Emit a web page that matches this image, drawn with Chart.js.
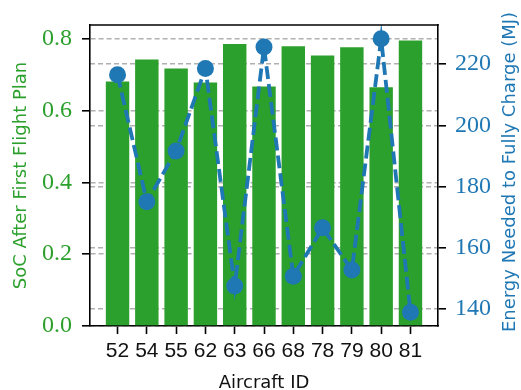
<!DOCTYPE html>
<html>
<head>
<meta charset="utf-8">
<script src="https://cdn.jsdelivr.net/npm/chart.js@4.4.1/dist/chart.umd.min.js"></script>
<style>
  body { margin:0; background:#fff; }
  #wrap { width:521px; height:390px; }
</style>
</head>
<body>
<div id="wrap"><canvas id="chart" width="521" height="390"></canvas></div>
<script>
// --- donnees ---
const aircraftIds = ['52','54','55','62','63','66','68','78','79','80','81'];
const socValues = [0.681, 0.742, 0.717, 0.678, 0.785, 0.667, 0.779, 0.753, 0.776, 0.665, 0.795];
const energyValues = [216.5, 175.0, 191.6, 218.6, 147.5, 225.6, 150.7, 166.5, 152.7, 228.3, 138.9];
const socTicks = [0, 0.2, 0.4, 0.6, 0.8];
const energyTicks = [140, 160, 180, 200, 220];

const green = '#2ca02c', blue = '#1f77b4';
const gridGray = '#b0b0b0';

// cadre du haut + titre de droite (lu de bas en haut)
const framePlugin = {
  id:'frame',
  afterDraw(chart) {
    const {ctx, chartArea:a} = chart;
    ctx.save();
    ctx.strokeStyle = '#000'; ctx.lineWidth = 1.6;
    ctx.beginPath(); ctx.moveTo(a.left-0.8, a.top); ctx.lineTo(a.right+0.8, a.top); ctx.stroke();
    ctx.translate(510, 172);
    ctx.rotate(-Math.PI/2);
    ctx.font = '18px "DejaVu Sans"';
    ctx.fillStyle = blue; ctx.textAlign = 'center'; ctx.textBaseline = 'middle';
    ctx.fillText('Energy Needed to Fully Charge (MJ)', 0, 0);
    ctx.restore();
  }
};

const tickStyle = { tickColor:'#000', tickWidth:1.6, tickLength:8, tickBorderDash:[] };

new Chart(document.getElementById('chart'), {
  data:{
    datasets:[
      { type:'line', label:'Energy', yAxisID:'y2', order:0,
        data:energyValues.map((v,i)=>({x:i, y:v})),
        borderColor:blue, backgroundColor:blue, borderWidth:3.8, borderDash:[13,5],
        pointRadius:8.5, pointHoverRadius:8.5, pointBorderWidth:0, pointBackgroundColor:blue, tension:0 },
      { type:'bar', label:'SoC', yAxisID:'y', order:1,
        data:socValues.map((v,i)=>({x:i, y:v})),
        backgroundColor:green, borderWidth:0, categoryPercentage:1, barPercentage:0.8 }
    ]
  },
  options:{
    responsive:false, animation:false,
    layout:{ padding:{ top:25, left:0, right:0, bottom:0 } },
    plugins:{ legend:{ display:false }, tooltip:{ enabled:false } },
    scales:{
      x:{
        type:'linear', position:'bottom', min:-0.94, max:10.94, offset:false,
        afterBuildTicks: s => { s.ticks = aircraftIds.map((_,i)=>({value:i})); },
        afterFit: s => { s.height = 64; },
        ticks:{ callback:(v)=>aircraftIds[v] ?? '', color:'#111', padding:5, maxRotation:0, autoSkip:false,
                font:{ family:'"Liberation Sans"', size:21 } },
        grid:{ drawOnChartArea:false, offset:false, ...tickStyle },
        border:{ display:true, color:'#000', width:1.6 },
        title:{ display:true, text:'Aircraft ID', color:'#111', padding:{top:0, bottom:-4},
                font:{ family:'"DejaVu Sans"', size:18 } }
      },
      y:{
        type:'linear', position:'left', min:0, max:0.838,
        afterBuildTicks: s => { s.ticks = socTicks.map(v=>({value:v})); },
        afterFit: s => { s.width = 90; },
        ticks:{ callback:v=>v.toFixed(1), color:green, padding:10,
                font:{ family:'"Liberation Serif"', size:24 } },
        grid:{ color:gridGray, lineWidth:1.6, ...tickStyle },
        border:{ display:true, color:'#000', width:1.6, dash:[5,3] },
        title:{ display:true, text:'SoC After First Flight Plan', color:green, padding:{top:11, bottom:0},
                font:{ family:'"DejaVu Sans"', size:18 } }
      },
      y2:{
        type:'linear', position:'right', min:134.4, max:232.8,
        afterBuildTicks: s => { s.ticks = energyTicks.map(v=>({value:v})); },
        afterFit: s => { s.width = 83; },
        ticks:{ callback:v=>String(v), color:blue, padding:9,
                font:{ family:'"Liberation Serif"', size:24 } },
        grid:{ color:gridGray, lineWidth:1.6, ...tickStyle },
        border:{ display:true, color:'#000', width:1.6, dash:[5,3] }
      }
    }
  },
  plugins:[framePlugin]
});
</script>
</body>
</html>
